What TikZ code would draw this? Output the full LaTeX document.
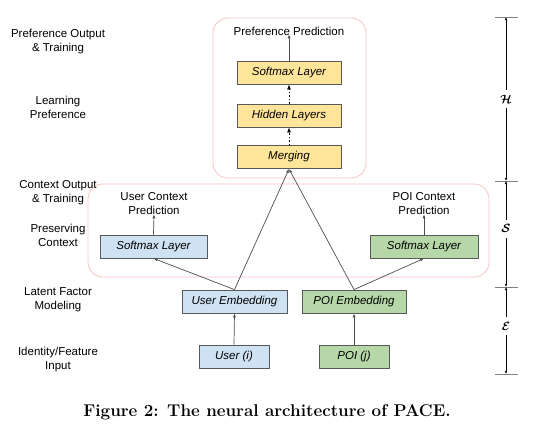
\documentclass[tikz,border=0pt]{standalone}
\usepackage{fontspec}
\setsansfont{Liberation Sans}
\usetikzlibrary{arrows.meta}
\definecolor{yfill}{HTML}{FFE599}
\definecolor{bfill}{HTML}{CFE2F3}
\definecolor{gfill}{HTML}{B6D7A8}
\definecolor{bline}{HTML}{595959}
\definecolor{frame}{HTML}{F5C4C2}
\definecolor{conn}{HTML}{4D4D4D}
\begin{document}
\begin{tikzpicture}[x=1pt,y=-1pt,
  font=\sffamily\fontsize{11.5}{13.5}\selectfont,
  box/.style={draw=bline, line width=0.8pt, minimum height=23pt, inner sep=0pt,
    font=\sffamily\itshape\fontsize{11.5}{12}\selectfont},
  ybox/.style={box, fill=yfill, minimum width=104pt},
  bbox/.style={box, fill=bfill},
  gbox/.style={box, fill=gfill},
  frm/.style={draw=frame, line width=0.8pt, rounded corners=15pt},
  lbl/.style={align=center, inner sep=1pt, font=\sffamily\fontsize{11.5}{14}\selectfont},
  conn/.style={draw=conn, line width=0.7pt, -{Latex[length=4pt,width=3pt]}},
  dconn/.style={draw=black, line width=0.8pt, dash pattern=on 1.5pt off 2pt, -{Latex[length=5pt,width=4pt]}},
  tick/.style={draw=gray, line width=0.9pt},
  dim/.style={draw=black, line width=0.6pt, {Latex[length=3pt,width=2.5pt]}-{Latex[length=3pt,width=2.5pt]}},
  dimlbl/.style={fill=white, inner sep=5pt, font=\fontsize{12}{13}\selectfont\boldmath}
]
\useasboundingbox (0,0) rectangle (534,432);

% frames
\draw[frm] (213,18) rectangle (366,178);
\draw[frm] (88,184) rectangle (489,277);

% top stack
\node[ybox] (smax) at (289,72.5) {Softmax Layer};
\node[ybox] (hid) at (289,115.5) {Hidden Layers};
\node[ybox] (mrg) at (289,157) {Merging};
\node[lbl] (pp) at (289,31) {Preference Prediction};

% context
\node[bbox, minimum width=107pt] (usm) at (153.5,246.5) {Softmax Layer};
\node[gbox, minimum width=108pt] (gsm) at (424,246.5) {Softmax Layer};
\node[lbl] (ucp) at (154,204) {User Context\\Prediction};
\node[lbl] (pcp) at (424,204) {POI Context\\Prediction};

% embeddings
\node[bbox, minimum width=105pt] (ue) at (234.5,301.5) {User Embedding};
\node[gbox, minimum width=104pt] (pe) at (354,301.5) {POI Embedding};
\node[bbox, minimum width=70pt] (ui) at (234,356.5) {User (i)};
\node[gbox, minimum width=70pt] (pj) at (354,356.5) {POI (j)};

% connectors
\draw[conn] (smax.north) -- ([yshift=2pt]pp.south);
\draw[dconn] (hid.north) -- (smax.south);
\draw[dconn] (mrg.north) -- (hid.south);
\draw[conn] (ue.north) -- (mrg.south);
\draw[conn] (pe.north) -- (mrg.south);
\draw[conn] (ue.north) -- (usm.south);
\draw[conn] (pe.north) -- (gsm.south);
\draw[conn] (usm.north) -- ([yshift=2pt]ucp.south);
\draw[conn] (gsm.north) -- ([yshift=2pt]pcp.south);
\draw[conn] (ui.north) -- (ue.south);
\draw[conn] (pj.north) -- (pe.south);

% left labels
\node[lbl] (l1) at (58,42) {Preference Output\\\& Training};
\node[lbl] (l2) at (58,107) {Learning\\Preference};
\node[lbl] (l3) at (58,193) {Context Output\\\& Training};
\node[lbl] (l4) at (58,235.5) {Preserving\\Context};
\node[lbl] (l5) at (58,300) {Latent Factor\\Modeling};
\node[lbl] (l6) at (58,360) {Identity/Feature\\Input};

% right scale
\coordinate (t1) at (506,17);
\coordinate (t2) at (506,181);
\coordinate (t3) at (506,287);
\coordinate (t4) at (506,374);
\foreach \t in {t1,t2,t3,t4}{
  \draw[tick] ([xshift=-11pt]\t) -- ([xshift=12pt]\t);
}
\draw[dim] (t1) -- (t2) node[dimlbl, pos=0.5] (hl) {$\mathcal{H}$};
\draw[dim] (t2) -- (t3) node[dimlbl, pos=0.45] (sl) {$\mathcal{S}$};
\draw[dim] (t3) -- (t4) node[dimlbl, pos=0.45] (el) {$\mathcal{E}$};

% caption
\node[font=\rmfamily\bfseries\fontsize{17}{19}\selectfont] (cap) at (267,412) {Figure 2: The neural architecture of PACE.};
\end{tikzpicture}
\end{document}
